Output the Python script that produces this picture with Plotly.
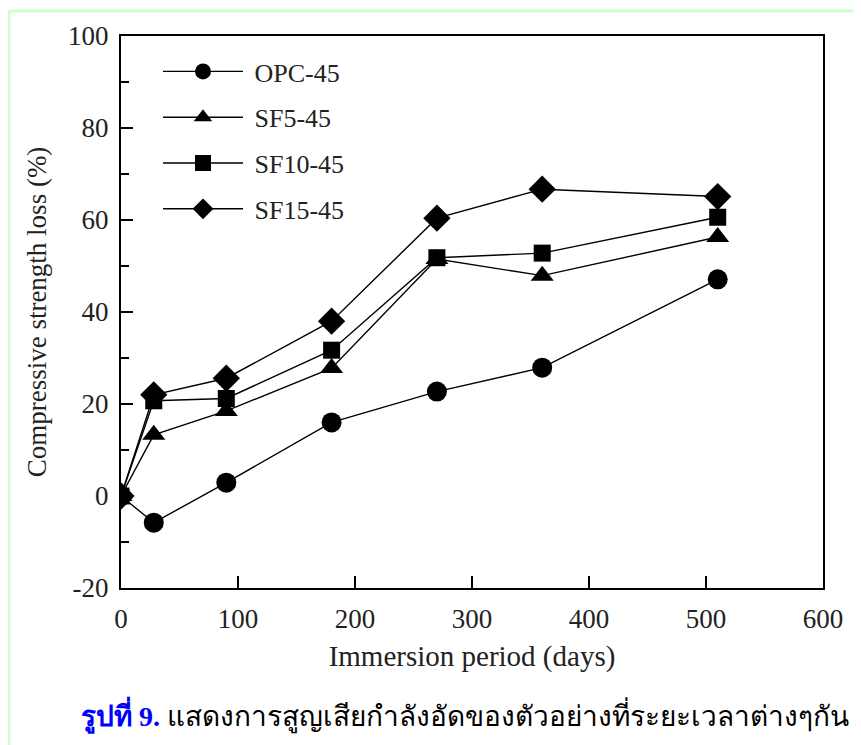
import plotly.graph_objects as go

days = [0, 28, 90, 180, 270, 360, 510]
opc45 = [0, -5.8, 2.9, 16.0, 22.7, 27.9, 47.1]
sf5_45 = [0, 13.3, 18.5, 27.8, 51.5, 47.9, 56.3]
sf10_45 = [0, 20.7, 21.2, 31.7, 51.8, 52.8, 60.6]
sf15_45 = [0, 22.0, 25.6, 38.0, 60.4, 66.7, 65.1]

series = [
    ("OPC-45", opc45, "circle", 20),
    ("SF5-45", sf5_45, "triangle-up", 20),
    ("SF10-45", sf10_45, "square", 17),
    ("SF15-45", sf15_45, "diamond", 21),
]

x_ticks = [0, 100, 200, 300, 400, 500, 600]
x_ticktext = ["0", "100", "200", "300", "400", "500", "600"]
y_ticks = [-20, 0, 20, 40, 60, 80, 100]
y_ticktext = ["-20", "0", "20", "40", "60", "80", "100"]

font_main = "Liberation Serif, Times New Roman, serif"

W, H = 853, 737
ML, MR, MT, MB = 113, 38, 28, 157
PW, PH = W - ML - MR, H - MT - MB

fig = go.Figure()
for name, vals, sym, sz in series:
    fig.add_trace(go.Scatter(
        x=days, y=vals, name="\u00a0" + name, mode="lines+markers",
        line=dict(color="black", width=1.4),
        marker=dict(symbol=sym, size=sz, color="black"),
        legendgroup=name,
    ))

fig.update_layout(
    width=W, height=H,
    margin=dict(l=ML, r=MR, t=MT, b=MB),
    paper_bgcolor="white", plot_bgcolor="white",
    font=dict(family=font_main, size=26, color="#222"),
    showlegend=True,
    legend=dict(
        x=37 / PW, y=1 - 12 / PH, xanchor="left", yanchor="top",
        bgcolor="rgba(0,0,0,0)", borderwidth=0,
        font=dict(family=font_main, size=26, color="#222"),
        tracegroupgap=9, itemwidth=80,
    ),
    xaxis=dict(
        range=[0, 600], tickvals=x_ticks, ticktext=x_ticktext,
        ticks="inside", ticklen=12, tickwidth=1.5,
        tickcolor="black", showline=True, linecolor="black", linewidth=2, mirror=True,
        showgrid=False, zeroline=False,
        tickfont=dict(family=font_main, size=27, color="#222"), ticklabelstandoff=6,
        title=dict(text="Immersion period (days)",
                   font=dict(family=font_main, size=29, color="#222"), standoff=12),
    ),
    yaxis=dict(
        range=[-20, 100], tickvals=y_ticks, ticktext=y_ticktext,
        ticks="inside", ticklen=12, tickwidth=1.5,
        tickcolor="black", showline=True, linecolor="black", linewidth=2, mirror=True,
        showgrid=False, zeroline=False,
        minor=dict(dtick=10, ticks="inside", ticklen=8, tickwidth=1.5,
                   tickcolor="black", showgrid=False),
        tickfont=dict(family=font_main, size=27, color="#222"), ticklabelstandoff=5,
        title=dict(text="Compressive strength loss (%)",
                   font=dict(family=font_main, size=27, color="#222"), standoff=14),
    ),
    shapes=[
        dict(type="line", xref="paper", yref="paper",
             x0=(1 - ML) / PW, x1=1.2, y0=1 + (MT - 3) / PH, y1=1 + (MT - 3) / PH,
             line=dict(color="#ccffcc", width=3)),
        dict(type="line", xref="paper", yref="paper",
             x0=(1 - ML) / PW, x1=(1 - ML) / PW, y0=-1, y1=1 + (MT - 3) / PH,
             line=dict(color="#ccffcc", width=3)),
    ],
    annotations=[
        dict(
            xref="paper", yref="paper", x=(457 - ML) / PW, y=-(707 - MT - PH) / PH,
            xanchor="center", yanchor="middle",
            text="<b><span style='color:#0000ff'>รูปที่ 9.</span></b> แสดงการสูญเสียกำลังอัดของตัวอย่างที่ระยะเวลาต่างๆกัน",
            showarrow=False, font=dict(size=28, color="black"),
        )
    ],
)

fig.write_html("out.html")
